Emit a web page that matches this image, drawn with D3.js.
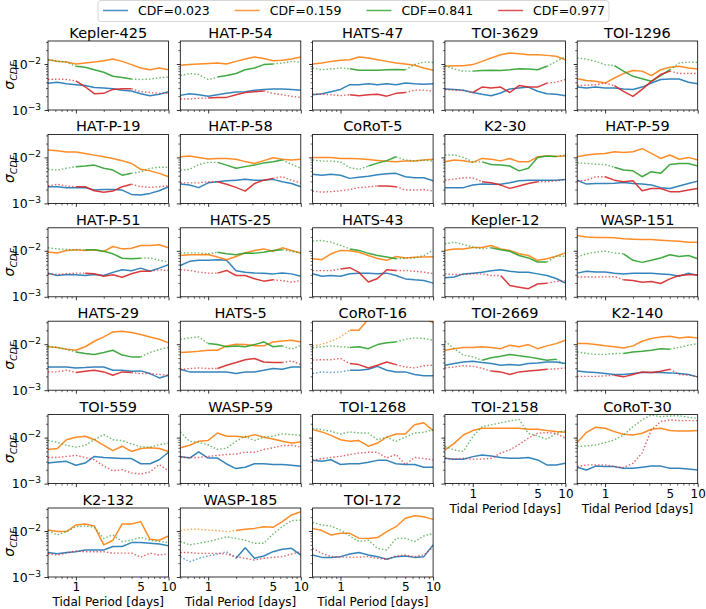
<!DOCTYPE html>
<html>
<head>
<meta charset="utf-8">
<script src="https://cdnjs.cloudflare.com/ajax/libs/d3/7.8.5/d3.min.js"></script>
<style>
  body { margin: 0; background: #fff; overflow: hidden; }
  text { font-family: "DejaVu Sans", sans-serif; }
</style>
</head>
<body>
<div id="chart"></div>
<script>
// tidal period grid the curves were read on [days]
const periods = [0.5, 0.63, 0.79, 1.0, 1.26, 1.58, 2.0, 2.51, 3.16, 3.98, 5.01, 6.31, 7.94, 10];

const planets = [
  'Kepler-425', 'HAT-P-54', 'HATS-47', 'TOI-3629', 'TOI-1296',
  'HAT-P-19', 'HAT-P-58', 'CoRoT-5', 'K2-30', 'HAT-P-59',
  'HAT-P-51', 'HATS-25', 'HATS-43', 'Kepler-12', 'WASP-151',
  'HATS-29', 'HATS-5', 'CoRoT-16', 'TOI-2669', 'K2-140',
  'TOI-559', 'WASP-59', 'TOI-1268', 'TOI-2158', 'CoRoT-30',
  'K2-132', 'WASP-185', 'TOI-172'
];

const legendLabels = ['CDF=0.023', 'CDF=0.159', 'CDF=0.841', 'CDF=0.977'];

// sigma_CDF in units of 1e-3, one row per planet
const UNIT = 1e-3;
const blue = [
  [3.8,4.0,3.7,3.55,3.4,3.1,3.0,2.9,2.7,2.6,2.26,2.05,2.2,2.5],
  [2.08,2.26,2.15,1.98,2.15,2.3,2.46,2.5,2.7,2.8,2.86,2.86,2.8,2.7],
  [2.15,2.26,2.5,2.8,3.55,3.55,3.7,3.55,3.7,3.55,3.85,3.7,3.65,3.7],
  [2.86,2.8,2.7,2.4,2.2,2.05,2.34,2.86,3.0,3.15,2.55,2.26,2.2,2.05],
  [3.15,3.0,3.15,3.0,3.0,2.86,2.8,3.15,3.85,4.6,4.7,4.7,4.0,3.7],
  [2.3,2.3,2.2,2.2,2.2,1.95,2.0,2.0,1.95,1.57,1.52,1.65,1.88,2.3],
  [2.63,2.5,2.2,2.8,2.96,3.1,3.2,3.33,3.2,3.2,3.33,2.96,2.7,2.3],
  [4.3,4.1,4.3,4.1,3.5,3.7,3.9,4.2,4.4,4.5,3.8,3.6,3.6,3.1],
  [2.2,2.2,2.2,2.5,2.63,2.6,2.6,2.8,3.1,3.2,3.2,3.2,3.2,3.3],
  [3.2,2.63,2.7,2.7,2.75,2.86,2.7,2.63,2.5,2.2,2.1,2.4,2.7,3.05],
  [3.27,2.9,3.05,3.0,2.9,3.05,2.9,3.4,3.86,3.7,4.2,3.6,4.2,5.0],
  [4.8,5.9,6.2,6.2,6.4,6.2,3.7,3.4,3.3,3.27,3.15,3.3,3.15,2.8],
  [3.16,2.8,2.9,2.8,3.16,3.27,3.27,3.16,3.27,2.9,2.45,2.34,2.26,1.98],
  [2.6,2.7,3.15,3.27,3.4,3.7,3.86,3.6,3.4,3.4,3.15,2.9,2.5,2.0],
  [3.27,3.6,3.45,3.45,3.27,3.15,3.27,3.27,3.27,3.15,3.05,2.8,3.27,2.9],
  [3.2,3.2,3.2,3.05,3.1,3.2,3.2,2.72,2.72,2.59,2.63,2.3,1.85,2.12],
  [2.86,2.5,2.5,2.5,2.5,2.5,2.3,2.5,2.5,2.7,2.96,2.86,3.2,3.2],
  [2.3,2.5,2.42,2.5,2.72,2.72,2.86,3.3,2.72,2.5,2.5,2.19,2.05,2.05],
  [3.5,3.8,4.1,4.27,4.0,3.8,3.5,3.6,3.5,3.8,3.9,4.1,4.1,3.8],
  [2.6,2.5,2.42,2.3,2.19,2.19,2.3,2.42,2.42,2.42,2.38,2.3,2.19,1.95],
  [2.8,2.95,3.05,2.5,2.8,3.9,3.7,3.6,3.5,3.5,2.7,2.7,3.3,4.8],
  [3.9,3.6,4.9,3.6,3.6,2.67,2.12,2.26,2.7,2.7,2.6,2.6,2.5,2.38],
  [3.2,3.05,3.3,2.6,2.7,2.7,2.9,3.2,3.2,2.7,2.6,2.6,2.26,2.26],
  [3.55,3.4,3.4,3.86,4.2,4.0,3.7,3.55,3.55,3.7,3.27,2.55,2.55,2.77],
  [2.26,1.98,2.4,2.34,2.34,2.15,2.15,2.26,2.4,2.4,2.15,2.15,2.08,1.98],
  [3.4,3.2,3.4,3.55,3.86,3.86,3.86,4.6,4.6,5.6,5.6,5.4,5.2,4.8],
  [2.77,2.15,2.55,2.86,3.15,3.55,2.55,4.3,2.55,2.86,3.55,4.0,4.2,3.0],
  [3.0,2.67,2.67,2.77,3.15,3.4,3.0,2.77,2.42,2.77,2.86,2.67,2.77,5.0]
];
const orange = [
  [12.3,11.5,11,10.0,10.5,11,11.8,12.8,11.4,9.7,8.2,7.5,8.2,7.5],
  [9.4,9.7,10,10.2,10.5,10,11.4,12.8,14.2,13.1,11.8,12,12.8,14.2],
  [10,10.5,11.4,12,12.4,14.2,13.5,12.4,11.4,10.5,10,9.4,8.2,7.3],
  [8.9,9.2,9.2,9.7,11.4,13.5,15.9,17.3,16.7,15.9,15.9,15.4,14.7,12.4],
  [4.8,4.4,4.2,3.85,4.96,6.2,7.2,7.0,5.6,7.5,8.5,8.9,8.2,7.8],
  [14.5,14.0,13.1,13.1,12.2,11.2,10.3,9.5,8.5,7.4,5.5,5.1,4.5,3.8],
  [10.3,10.7,10,9.2,9.5,9.5,9.1,8.1,7.4,8.5,9.8,9.1,8.8,9.1],
  [10,10,10,9.5,9.5,9.3,9.0,8.6,8.2,8.0,8.3,8.4,8.8,9.1],
  [8.0,8.8,8.5,7.8,9.5,9.1,8.4,9.5,8.0,8.0,10.3,10.7,10.5,10.7],
  [10.3,11.3,11.8,12.2,13.3,12.8,13.3,15.5,12.2,9.5,11.3,9.1,10,8.8],
  [9.4,9.0,10.2,10.5,10.2,10.5,9.7,12.4,11,11.4,13,13,13.5,11.6],
  [7.9,8.2,8.2,8.3,7.3,6.4,7.5,9.0,10.2,11,9.8,11.6,10.2,9.0],
  [6.7,6.4,8.6,10.2,10.0,9.3,7.9,6.8,6.2,7.5,7.0,7.2,7.3,7.4],
  [10.2,11,11,11.8,11.8,13,11,10.2,8.6,7.9,6.2,6.7,7.6,9.0],
  [21.5,20,19.5,19.5,19.2,18.2,17.8,17.5,17.5,17,16.5,16.2,15.4,15.4],
  [8.8,8.5,7.8,7.4,8.8,11.6,14.4,18.5,19.2,17.9,16.2,14.4,12.8,10.7],
  [6.6,6.8,7.0,7.4,7.4,9.2,10,9.8,9.2,9.2,11.2,11.8,12.2,11.2],
  [9.2,10,11.6,14.4,20,20,35,50,50,50,50,50,36,29.5],
  [7.4,8.0,8.5,8.5,8.8,8.5,8.0,9.5,8.8,9.8,8.0,9.2,10.3,12.2],
  [10.3,10.3,9.8,9.2,8.8,8.3,9.2,11.6,13.3,14.4,14.9,13.7,14.4,13.7],
  [5.5,5.8,9.0,10.2,10.7,9.0,6.8,5.2,6.5,5.0,5.8,6.0,5.8,5.0],
  [6.0,6.8,8.3,8.7,12.6,10.7,10.7,10.2,11.6,10.2,9.3,8.3,7.6,8.0],
  [14.9,13.3,11.2,9.0,8.3,8.6,6.5,7.6,10.2,12,12,19,21,14.2],
  [5.4,7.5,11.4,14.2,15.9,15.9,15.9,15.9,15.9,15.2,15.2,14.2,13.5,13.1],
  [7.8,13,16.8,16,13.5,11.8,11.4,12.4,15.2,16,14.2,13.9,13.9,14.2],
  [10.5,9.7,9.7,13.5,14.2,12.8,5.0,6.3,14.2,14.2,16,6.6,6.3,7.8],
  [10.2,10.9,10.9,10.5,10.2,9.7,10.2,10.9,11.4,12.4,12,16,22.3,26.3],
  [11.4,10.2,8.2,8.9,8.9,7.0,6.9,7.2,9.7,12.4,18.9,21.5,20.5,17.9]
];
const green = [
  [12.4,11.5,11,8.9,8.5,7.5,6.6,5.4,5.1,4.7,4.6,4.7,5.0,5.2],
  [5.6,6.2,5.9,4.6,5.2,5.6,6.2,7.5,8.2,9.7,10,10.5,11.4,11],
  [8.2,7.5,7.8,8.2,7.9,7.3,7.3,7.3,7.5,7.6,7.5,9.7,11,10.8],
  [9.2,7.8,7.0,7.0,7.2,7.3,7.2,7.5,7.9,7.8,7.5,8.9,11.4,14.2],
  [13.5,12.8,11.4,9.7,9.2,7.0,5.4,4.8,4.2,5.6,7.5,10.5,11,10.8],
  [5.5,5.3,5.8,6.3,6.5,6.8,5.8,5.3,4.1,4.5,4.9,5.8,6.1,6.1],
  [5.3,5.5,7.0,7.8,7.8,6.8,5.8,6.3,6.8,7.6,8.0,8.8,7.1,5.8],
  [8.8,8.3,8.3,8.0,6.0,5.5,6.5,7.5,8.5,10.3,8.8,8.4,8.8,8.3],
  [11.3,11.3,10,8.0,8.0,7.0,6.8,6.5,5.1,5.8,10,10.7,10.5,11.3],
  [7.6,7.4,7.1,7.0,6.1,5.3,5.1,3.8,4.9,4.5,7.0,7.4,7.4,6.5],
  [11.6,11,10.7,10.5,10.5,10.5,9.8,8.6,6.9,6.7,6.9,7.0,6.2,5.7],
  [8.9,9.0,9.0,8.6,9.3,8.6,8.2,9.0,8.9,9.3,10.2,10.5,9.8,8.9],
  [16.2,16.8,15.4,13.1,11,10.2,8.8,7.9,7.3,6.7,6.9,7.0,7.9,10.2],
  [14.2,15.4,13.7,12,11,11.7,10.5,9.8,7.9,7.0,5.7,5.7,7.6,7.6],
  [7.3,8.6,9.3,9.8,9.0,8.6,6.2,5.6,6.2,7.0,8.2,7.5,7.9,6.7],
  [9.2,8.5,7.7,6.8,6.3,6.0,6.6,7.4,5.8,5.3,5.3,6.6,7.7,8.5],
  [12.8,13.7,14.4,10.3,9.8,8.8,9.1,8.8,9.8,11.2,8.8,9.2,7.8,9.5],
  [8.3,8.8,9.2,8.8,8.5,8.8,8.0,9.8,10.7,11.2,12.8,13.7,13.3,12.2],
  [11.6,8.0,5.8,5.3,4.5,5.1,5.5,6.0,5.6,5.3,4.9,4.5,4.7,3.5],
  [6.8,6.3,6.0,6.0,6.3,6.3,6.8,7.0,7.4,8.0,7.8,8.5,9.5,10.3],
  [8.7,7.9,6.8,6.2,6.8,9.0,11.6,9.0,8.6,7.3,6.3,6.2,7.0,7.6],
  [13.3,8.3,7.9,7.0,5.5,5.9,8.3,10.7,8.6,10.2,10.7,12,11.6,11.2],
  [15.6,14.9,13.7,12,13.3,12.6,12.6,9.0,10.2,8.3,10.2,12.6,13,14.9],
  [6.4,5.4,5.0,10.5,17.3,18.9,21,23,24.8,12.4,10.9,9.2,12.4,14.2],
  [6.4,6.6,6.9,7.8,8.9,11.4,17.3,24.2,31,28.5,29.5,30,27.6,26.3],
  [10.2,8.2,9.7,12.4,12.8,12,6.9,8.2,5.9,6.3,7.3,6.3,5.9,5.6],
  [5.9,5.0,5.4,5.9,6.6,7.5,6.9,6.3,5.4,5.4,8.6,12.4,16.8,17.3],
  [15.2,13.5,12.8,10.5,7.8,5.9,6.3,4.2,3.86,6.9,6.9,5.9,7.8,8.9]
];
const red = [
  [4.6,4.7,4.6,4.3,3.2,2.26,2.3,2.8,2.9,2.9,2.5,2.4,2.3,2.3],
  [1.73,1.73,1.8,1.82,1.88,1.88,2.15,2.4,2.5,2.6,2.3,2.15,1.98,1.88],
  [2.2,2.2,2.15,2.05,2.15,2.05,2.15,2.2,2.0,2.3,2.4,2.7,2.7,2.55],
  [2.8,2.7,2.65,2.4,3.15,3.0,3.15,2.4,3.4,3.15,3.15,3.85,4.0,4.6],
  [3.4,3.45,3.55,3.85,3.4,2.55,1.98,2.8,4.2,5.9,7.0,6.2,6.2,6.2],
  [2.38,2.6,2.38,2.3,2.3,1.88,1.74,1.85,2.3,2.6,2.3,2.23,2.3,2.42],
  [2.8,2.8,2.8,2.96,2.96,2.6,2.23,1.85,2.7,3.2,3.5,3.8,3.2,2.8],
  [1.85,1.76,1.8,1.88,2.0,2.2,2.3,2.4,2.4,2.3,1.95,1.95,2.0,1.85],
  [3.2,3.38,3.6,3.6,2.96,2.8,2.5,2.12,2.38,2.72,2.96,2.96,3.1,3.33],
  [3.05,3.2,3.8,3.8,3.2,2.96,3.1,1.88,2.1,2.1,1.8,1.8,1.95,2.1],
  [3.16,3.05,3.16,3.27,3.27,3.16,2.8,3.0,2.67,3.16,3.6,3.6,3.86,3.7],
  [3.86,3.74,3.44,3.27,3.27,3.74,2.9,2.9,2.46,2.19,2.34,2.26,2.08,2.26],
  [3.7,3.7,3.7,4.0,4.3,3.4,2.1,2.5,3.86,3.74,3.74,3.6,3.44,3.16],
  [3.15,3.05,3.05,3.15,3.15,2.9,2.9,1.76,1.62,1.5,1.9,1.98,2.15,2.26],
  [2.7,2.7,2.7,2.7,2.75,2.34,2.26,2.08,2.15,1.95,2.45,2.9,3.0,3.0],
  [2.5,2.5,2.72,2.42,2.59,2.72,2.5,2.12,2.5,2.42,2.3,2.3,2.19,2.12],
  [2.8,2.96,3.05,2.96,2.96,3.5,4.0,4.6,4.9,4.1,4.0,4.0,4.3,3.6],
  [4.5,4.6,4.6,4.9,3.8,3.6,3.05,3.5,4.1,3.6,3.2,3.05,3.4,3.5],
  [3.05,3.2,3.4,3.3,3.0,2.6,2.5,2.19,2.5,2.6,2.72,2.86,2.9,3.05],
  [2.0,2.0,2.0,2.05,2.12,1.95,2.19,2.5,2.42,2.59,2.86,2.19,2.12,1.95],
  [3.7,3.7,3.9,4.1,3.7,3.3,2.4,1.9,2.0,1.7,1.62,1.8,2.6,1.9],
  [3.7,3.7,3.7,3.9,4.1,4.3,4.4,4.8,4.8,5.5,6.0,6.7,6.8,6.2],
  [3.2,3.5,3.7,3.9,4.3,4.6,4.8,4.8,3.6,4.3,2.6,3.7,3.5,3.3],
  [3.55,3.4,3.55,3.4,3.4,3.55,4.6,5.4,7.1,9.7,12.4,12.8,12.4,9.7],
  [2.34,2.55,2.55,2.55,2.34,2.23,2.77,4.6,14.7,22.3,24.2,23.4,23.4,23.4],
  [3.2,3.0,3.3,3.7,3.55,3.55,3.55,3.3,3.3,3.3,2.7,3.3,3.0,3.2],
  [3.4,3.4,3.27,3.27,3.27,3.15,2.77,2.55,2.34,2.55,2.67,2.77,3.15,3.55],
  [4.2,3.27,2.77,2.7,2.7,2.7,2.77,2.55,2.42,2.86,3.0,2.77,3.0,4.4]
];

// where each curve is well constrained: '-' yes, '.' no
const blueFit = [
  '--------------','--------------','--------------','--------------','--------------',
  '--------------','--------------','--------------','--------------','--------------',
  '--------------','--------------','--------------','--------------','--------------',
  '--------------','--------------','....----------','--------------','--------------',
  '--------------','--------------','--------------','--------------','--------------',
  '--------------','......--------','--------------'
];
const orangeFit = [
  '--------------','--------------','--------------','--------------','--------------',
  '--------------','--------------','--------------','--------------','--------------',
  '--------------','--------------','--------------','--------------','--------------',
  '--------------','--------------','....----------','--------------','--------------',
  '--------------','--------------','--------------','--------------','--------------',
  '--------------','......--------','--------------'
];
const greenFit = [
  '...-------....','....-------...','....-------...','...---------..','....-------...',
  '...-------....','....--------..','......----....','....---------.','....----------',
  '....-------...','....--------..','....------....','.....-------..','.....---------',
  '...--------...','...---------..','....------....','....---------.','.....------...',
  '..............','..............','..............','..............','..............',
  '..............','..............','..............'
];
const redFit = [
  '...-------....','...-------....','....-------...','...---------..','....-------...',
  '...-------....','....-------...','.......---....','....-------...','...-----------',
  '....--------..','....-------...','...-------....','......------..','.....---------',
  '...-------....','....--------..','....------....','.....-------..','....-------...',
  '..............','..............','..............','..............','..............',
  '..............','..............','..............'
];

const xMajor = [1, 10];
const xMinor = [0.5, 0.6, 0.7, 0.8, 0.9, 2, 3, 4, 5, 6, 7, 8, 9];
const xLabelled = [1, 5, 10];
const yMajor = [1e-3, 1e-2];
const yMinor = [2e-3, 3e-3, 4e-3, 5e-3, 6e-3, 7e-3, 8e-3, 9e-3, 2e-2, 3e-2];

const series = [
  {values: blue,   fit: blueFit,   color: '#1f77b4'},
  {values: orange, fit: orangeFit, color: '#ff7f0e'},
  {values: green,  fit: greenFit,  color: '#2ca02c'},
  {values: red,    fit: redFit,    color: '#d62728'}
];

const width = 706, height = 609;
const pw = 120.5, ph = 69;
const left0 = 48, top0 = 41, stepX = 132.3, stepY = 93.4;
const ncol = 5;

const svg = d3.select('#chart').append('svg')
  .attr('width', width)
  .attr('height', height);

const x = d3.scaleLog().domain([0.5, 10]).range([0, pw]);
const y = d3.scaleLog().domain([1e-3, Math.pow(10, -1.5)]).range([ph, 0]);

const line = d3.line()
  .x(d => x(d.p))
  .y(d => y(d.v));

const drawSeries = (g, vals, fit, color) => {
  const pts = periods.map((p, k) => ({p, v: vals[k] * UNIT, solid: fit[k] === '-'}));
  const runs = [];
  for (let k = 0; k < pts.length - 1; k++) {
    const style = pts[k].solid && pts[k + 1].solid ? 'solid' : 'dotted';
    const last = runs[runs.length - 1];
    if (last && last.style === style) last.pts.push(pts[k + 1]);
    else runs.push({style, pts: [pts[k], pts[k + 1]]});
  }
  runs.forEach(r => {
    const path = g.append('path')
      .attr('d', line(r.pts))
      .attr('fill', 'none')
      .attr('stroke', color)
      .attr('stroke-linejoin', 'round');
    if (r.style === 'solid') {
      path.attr('stroke-width', 1.5).attr('opacity', 0.9);
    } else {
      path.attr('stroke-width', 1.4).attr('opacity', 0.7)
        .attr('stroke-dasharray', '1.5,2');
    }
  });
};

const styleAxis = (a) => {
  a.select('.domain').remove();
  a.selectAll('line').attr('stroke', '#000').attr('stroke-width', 0.8);
  a.selectAll('text')
    .attr('font-family', '"DejaVu Sans", sans-serif')
    .attr('font-size', 12)
    .attr('fill', '#000');
};

planets.forEach((name, i) => {
  const col = i % ncol, row = Math.floor(i / ncol);
  const showX = row === 5 || (row === 4 && col >= 3);
  const showY = col === 0;

  const g = svg.append('g')
    .attr('transform', `translate(${left0 + col * stepX},${top0 + row * stepY})`);

  g.append('clipPath').attr('id', 'clip' + i)
    .append('rect').attr('width', pw).attr('height', ph);

  const plot = g.append('g').attr('clip-path', `url(#clip${i})`);
  series.forEach(s => drawSeries(plot, s.values[i], s.fit[i], s.color));

  // x axis
  g.append('g')
    .attr('transform', `translate(0,${ph})`)
    .call(d3.axisBottom(x).tickValues(xMajor).tickSize(3.5).tickPadding(2)
      .tickFormat(d => showX ? d3.format('d')(d) : ''))
    .call(styleAxis);
  g.append('g')
    .attr('transform', `translate(0,${ph})`)
    .call(d3.axisBottom(x).tickValues(xMinor).tickSize(2).tickPadding(3.5)
      .tickFormat(d => showX && xLabelled.includes(d) ? d3.format('d')(d) : ''))
    .call(styleAxis)
    .call(a => a.selectAll('line').attr('stroke-width', 0.6));

  // y axis
  g.append('g')
    .call(d3.axisLeft(y).tickValues(yMajor).tickSize(3.5).tickPadding(3.5)
      .tickFormat(d => showY ? '10' : ''))
    .call(styleAxis)
    .call(a => a.selectAll('text').attr('font-size', 12.5).each(function(d) {
      if (!showY) return;
      const t = d3.select(this);
      t.append('tspan')
        .attr('dy', '-0.55em')
        .attr('font-size', 9)
        .text('\u2212' + Math.round(-Math.log10(d)));
    }));
  g.append('g')
    .call(d3.axisLeft(y).tickValues(yMinor).tickSize(2).tickFormat(() => ''))
    .call(styleAxis)
    .call(a => a.selectAll('line').attr('stroke-width', 0.6));

  // frame
  g.append('rect')
    .attr('width', pw)
    .attr('height', ph)
    .attr('fill', 'none')
    .attr('stroke', '#000')
    .attr('stroke-width', 0.8);

  g.append('text')
    .attr('x', pw / 2)
    .attr('y', -3)
    .attr('text-anchor', 'middle')
    .attr('font-size', 14.5)
    .text(name);

  if (showX) {
    g.append('text')
      .attr('x', pw / 2)
      .attr('y', ph + 29)
      .attr('text-anchor', 'middle')
      .attr('font-size', 12)
      .text('Tidal Period [days]');
  }

  if (showY) {
    const lab = g.append('text')
      .attr('transform', `translate(-34,${ph / 2}) rotate(-90)`)
      .attr('text-anchor', 'middle')
      .attr('font-size', 14);
    lab.append('tspan').attr('font-style', 'italic').text('\u03c3');
    lab.append('tspan').attr('font-style', 'italic').attr('font-size', 9.5)
      .attr('dy', 3).text('CDF');
  }
});

// legend
const legend = svg.append('g');
legend.append('rect')
  .attr('x', 98).attr('y', 0.5)
  .attr('width', 511).attr('height', 21)
  .attr('rx', 3)
  .attr('fill', '#fff')
  .attr('stroke', '#ccc')
  .attr('stroke-width', 0.8);

series.forEach((s, i) => {
  const lx = 103 + i * 131.7;
  legend.append('line')
    .attr('x1', lx).attr('x2', lx + 25)
    .attr('y1', 10.5).attr('y2', 10.5)
    .attr('stroke', s.color)
    .attr('stroke-width', 1.5)
    .attr('opacity', 0.8);
  legend.append('text')
    .attr('x', lx + 35)
    .attr('y', 15)
    .attr('font-size', 12.5)
    .text(legendLabels[i]);
});
</script>
</body>
</html>
